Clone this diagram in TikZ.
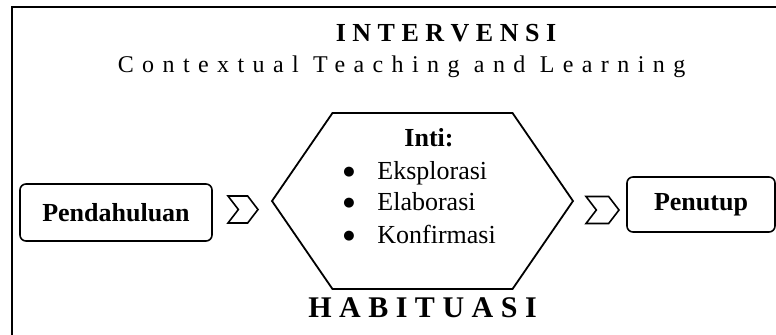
\documentclass[tikz,border=0pt]{standalone}
\usepackage{fontspec}
\setmainfont{Liberation Serif}
\newfontfamily\simbol{DejaVu Sans}
\usetikzlibrary{positioning,shapes.symbols}

\newcommand{\titikbutir}{\makebox[17pt][l]{\raisebox{1.6pt}{\simbol\fontsize{6.5}{8}\selectfont ●}}}

\begin{document}
\begin{tikzpicture}[x=0.5pt,y=-0.5pt,
  kotak/.style={draw,rounded corners=3pt,line width=0.8pt,inner sep=0pt,font=\fontsize{13}{16}\selectfont\bfseries},
  panah/.style={draw,signal,signal to=east,signal from=west,signal pointer angle=105,inner sep=0pt,minimum width=15pt,minimum height=13.5pt,line width=0.8pt},
  butir/.style={anchor=base west,inner sep=0pt,font=\fontsize{13}{16}\selectfont}]
\tikzstyle{every node}+=[inner sep=0pt]
\useasboundingbox (0,0) rectangle (776,334);
\clip (0,0) rectangle (776,334);
\draw [line width=1pt] (12,7) rectangle (800,360);
\node [anchor=base,font=\fontsize{13}{15}\selectfont\bfseries] (judul) at (446,41) {I N T E R V E N S I};
\node [anchor=base,font=\fontsize{12}{14}\selectfont\addfontfeature{LetterSpace=35}] (ctl) at (401.5,72) {Contextual Teaching and Learning};
\node [draw,signal,signal to=east and west,signal pointer angle=111,minimum width=150.5pt,minimum height=88pt,line width=0.9pt] (inti) at (422.5,201) {};
\node [anchor=base,font=\fontsize{13}{16}\selectfont\bfseries] (judulinti) at (429,146) {Inti:};
\node [butir] (b1) at (343,179) {\titikbutir Eksplorasi};
\node [butir] (b2) at (343,210) {\titikbutir Elaborasi};
\node [butir] (b3) at (343,243) {\titikbutir Konfirmasi};
\node [anchor=base,font=\fontsize{15}{18}\selectfont\bfseries] (hab) at (422.5,317) {H A B I T U A S I};
\node [kotak,minimum width=96pt,minimum height=28.5pt] (awal) at (116,212.5) {Pendahuluan};
\node [kotak,minimum width=74pt,minimum height=27.5pt] (akhir) at (701,204.5) {Penutup};
\node [panah] (p1) at (243,209.5) {};
\node [panah,minimum width=16.5pt] (p2) at (602.5,210) {};
\end{tikzpicture}
\end{document}
